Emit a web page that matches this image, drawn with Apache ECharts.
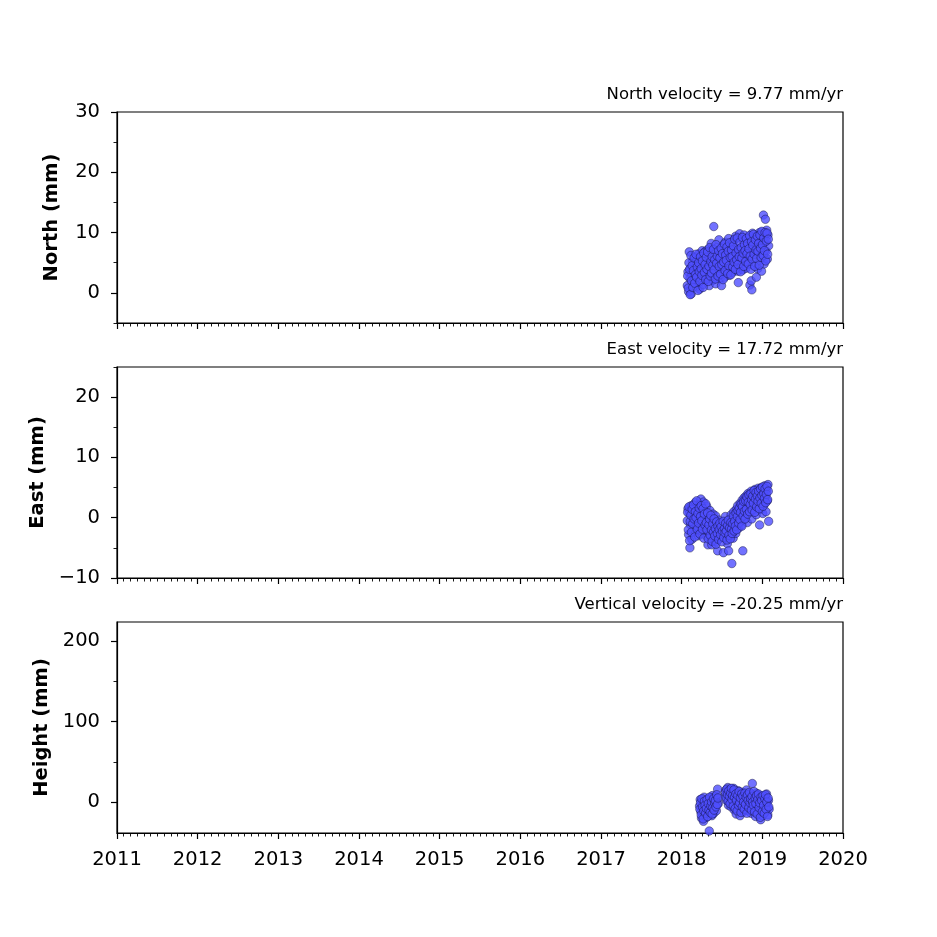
<!DOCTYPE html>
<html>
<head>
<meta charset="utf-8">
<script src="https://cdn.jsdelivr.net/npm/echarts@6/dist/echarts.min.js"></script>
<style>html,body{margin:0;padding:0;background:#fff}#c{width:937px;height:937px}</style>
</head>
<body>
<div id="c"></div>
<script>
// epochs (decimal year) for North / East, set A
const neTimes = [
2018.070,2018.078,2018.086,2018.094,2018.102,2018.110,2018.118,2018.126,2018.134,2018.142,
2018.150,2018.158,2018.166,2018.174,2018.182,2018.190,2018.198,2018.206,2018.214,2018.222,
2018.230,2018.238,2018.246,2018.254,2018.262,2018.270,2018.278,2018.286,2018.294,2018.302,
2018.310,2018.318,2018.326,2018.334,2018.342,2018.350,2018.358,2018.366,2018.374,2018.382,
2018.390,2018.398,2018.406,2018.414,2018.422,2018.430,2018.438,2018.446,2018.454,2018.462,
2018.470,2018.478,2018.486,2018.494,2018.502,2018.510,2018.518,2018.526,2018.534,2018.542,
2018.550,2018.558,2018.566,2018.574,2018.582,2018.590,2018.598,2018.606,2018.614,2018.622,
2018.630,2018.638,2018.646,2018.654,2018.662,2018.670,2018.678,2018.686,2018.694,2018.702,
2018.710,2018.718,2018.726,2018.734,2018.742,2018.750,2018.758,2018.766,2018.774,2018.782,
2018.790,2018.798,2018.806,2018.814,2018.822,2018.830,2018.838,2018.846,2018.854,2018.862,
2018.870,2018.878,2018.886,2018.894,2018.902,2018.910,2018.918,2018.926,2018.934,2018.942,
2018.950,2018.958,2018.966,2018.974,2018.982,2018.990,2018.998,2019.006,2019.014,2019.022,
2019.030,2019.038,2019.046,2019.054,2019.062,2019.070,2019.078
];
const northVals = [
1.2,3.5,0.2,6.8,2.4,4.1,-0.2,3.0,5.2,1.8,
4.6,2.2,6.0,3.3,1.0,5.5,2.8,4.0,6.5,0.6,
3.8,5.1,2.0,7.0,4.4,1.4,5.8,3.1,6.9,4.8,
2.5,5.6,7.2,3.6,1.2,4.9,6.3,8.2,3.0,5.4,
2.1,11.0,4.3,6.7,1.5,5.0,7.5,3.2,5.9,8.8,
4.1,2.4,6.2,1.2,5.3,7.8,3.9,6.0,2.6,8.4,
4.7,6.8,3.5,5.6,9.0,2.9,6.4,4.2,7.9,5.0,
3.4,8.6,6.1,4.0,4.8,9.4,5.7,7.3,3.6,1.7,
6.9,9.8,4.5,7.0,5.2,8.9,3.8,6.4,9.6,5.9,
7.7,4.1,8.3,6.2,5.0,9.2,5.5,1.3,7.4,2.0,
0.5,9.9,4.6,8.1,7.0,6.8,9.3,2.6,7.6,4.0,
8.7,6.3,10.0,5.4,7.9,3.6,9.0,6.6,12.9,4.8,
8.4,12.2,6.9,10.4,5.6,9.6,7.8
];
const eastVals = [
-0.5,1.5,-2.8,0.8,-5.0,-1.2,2.0,-3.6,0.2,-1.8,
1.2,-0.8,2.5,-2.4,0.5,-1.5,1.8,-3.0,-0.2,2.2,
-1.0,3.1,-2.2,0.9,-0.6,2.6,-1.6,1.0,-2.9,0.4,
1.9,-1.3,-4.5,0.0,-2.5,1.2,-3.2,-0.9,-4.5,-1.9,
0.6,-3.6,-1.0,-2.7,0.3,-4.0,-1.5,-5.5,-2.2,-0.4,
-3.3,-1.2,-2.8,-2.5,-0.8,-2.0,-5.8,-1.1,-2.6,0.2,
-3.1,-1.6,-4.3,-0.5,-5.5,-2.0,-1.0,-3.0,0.5,-7.6,
-0.3,-3.4,1.0,-1.5,0.2,-2.6,1.4,-0.6,2.0,-1.8,
0.8,-1.0,2.4,0.0,-1.2,2.9,-5.5,-0.4,3.3,1.6,
0.2,3.6,2.0,-0.8,4.0,2.4,0.9,3.5,1.5,4.4,
-0.2,2.8,4.1,1.2,3.2,4.7,2.1,0.5,3.8,1.7,
4.9,2.6,-1.2,3.9,1.4,5.0,2.9,0.7,4.2,2.2,
5.3,3.4,1.0,4.6,2.8,5.5,-0.6
];
// epochs for North / East, set B
const neTimes2 = [
2018.074,2018.082,2018.090,2018.098,2018.106,2018.114,2018.122,2018.130,2018.138,2018.146,
2018.154,2018.162,2018.170,2018.178,2018.186,2018.194,2018.202,2018.210,2018.218,2018.226,
2018.234,2018.242,2018.250,2018.258,2018.266,2018.274,2018.282,2018.290,2018.298,2018.306,
2018.314,2018.322,2018.330,2018.338,2018.346,2018.354,2018.362,2018.370,2018.378,2018.386,
2018.394,2018.402,2018.410,2018.418,2018.426,2018.434,2018.442,2018.450,2018.458,2018.466,
2018.474,2018.482,2018.490,2018.498,2018.506,2018.514,2018.522,2018.530,2018.538,2018.546,
2018.554,2018.562,2018.570,2018.578,2018.586,2018.594,2018.602,2018.610,2018.618,2018.626,
2018.634,2018.642,2018.650,2018.658,2018.666,2018.674,2018.682,2018.690,2018.698,2018.706,
2018.714,2018.722,2018.730,2018.738,2018.746,2018.754,2018.762,2018.770,2018.778,2018.786,
2018.794,2018.802,2018.810,2018.818,2018.826,2018.834,2018.842,2018.850,2018.858,2018.866,
2018.874,2018.882,2018.890,2018.898,2018.906,2018.914,2018.922,2018.930,2018.938,2018.946,
2018.954,2018.962,2018.970,2018.978,2018.986,2018.994,2019.002,2019.010,2019.018,2019.026,
2019.034,2019.042,2019.050,2019.058,2019.066,2019.074
];
const northVals2 = [
2.8,0.8,5.0,3.9,-0.3,6.2,2.0,4.5,0.9,3.7,
5.8,1.6,3.0,6.4,2.6,4.3,0.4,5.0,3.5,1.9,
6.0,4.0,2.9,5.3,0.9,6.6,3.4,4.7,2.2,5.9,
3.9,6.8,1.9,4.4,7.5,2.8,5.2,3.3,6.0,4.6,
7.2,3.8,5.5,2.3,8.0,4.9,6.1,2.8,7.0,4.4,
5.8,3.1,7.4,4.7,6.5,2.2,5.1,8.1,3.7,6.3,
5.4,7.6,3.2,6.9,4.5,8.3,5.9,3.0,7.1,6.0,
4.3,7.8,5.1,8.9,3.9,6.6,5.5,9.1,4.7,7.2,
6.0,8.4,3.5,7.5,5.8,9.2,6.6,4.4,8.0,7.0,
5.2,9.0,6.5,8.2,4.8,7.3,9.5,6.1,3.9,8.5,
5.6,7.9,9.7,6.4,4.4,8.8,7.1,5.7,9.4,6.9,
8.2,4.6,9.6,7.4,5.9,10.2,8.0,6.2,9.1,7.0,
10.0,5.3,8.6,9.9,6.4,8.9
];
const eastVals2 = [
0.9,-2.0,1.8,-3.8,-0.6,0.4,-2.4,1.4,-1.0,2.1,
-0.2,-3.2,1.0,0.0,2.8,-1.9,0.7,-0.9,1.6,-2.7,
0.2,2.0,-0.5,-1.9,1.5,-3.4,0.6,-1.2,2.3,-0.8,
-2.0,0.8,-3.5,-1.2,-0.2,-2.9,0.4,-2.0,-3.9,-1.0,
-2.4,-0.2,-3.0,-1.8,-4.4,-0.7,-2.6,-1.4,-3.6,-2.0,
-0.9,-2.8,-1.5,-4.0,-2.2,-0.6,-3.3,-1.8,-2.5,-0.9,
-2.2,-3.7,-1.3,-0.4,-2.9,-1.7,-3.5,-0.8,-1.9,-2.6,
-1.0,0.3,-2.2,-0.6,-1.4,0.8,-2.0,0.2,1.2,-0.9,
1.6,-0.3,0.9,2.2,-1.4,1.8,0.3,2.7,1.1,-0.2,
2.8,1.4,3.4,0.6,2.6,3.8,1.0,2.2,4.0,3.0,
1.3,3.6,2.4,4.5,0.9,3.1,4.2,1.8,3.6,2.7,
4.4,1.5,3.3,4.8,2.4,3.7,5.1,1.9,4.0,3.2,
4.8,2.5,3.9,5.2,3.0,4.4
];
// epochs for Height, set A
const upTimes = [
2018.222,2018.230,2018.238,2018.246,2018.254,2018.262,2018.270,2018.278,2018.286,2018.294,
2018.302,2018.310,2018.318,2018.326,2018.334,2018.342,2018.350,2018.358,2018.366,2018.374,
2018.382,2018.390,2018.398,2018.406,2018.414,2018.422,2018.430,2018.438,2018.446,2018.454,
2018.540,2018.548,2018.556,2018.564,2018.572,2018.580,2018.588,2018.596,2018.604,2018.612,
2018.620,2018.628,2018.636,2018.644,2018.652,2018.660,2018.668,2018.676,2018.684,2018.692,
2018.700,2018.708,2018.716,2018.724,2018.732,2018.740,2018.748,2018.756,2018.764,2018.772,
2018.780,2018.788,2018.796,2018.804,2018.812,2018.820,2018.828,2018.836,2018.844,2018.852,
2018.860,2018.868,2018.876,2018.884,2018.892,2018.900,2018.908,2018.916,2018.924,2018.932,
2018.940,2018.948,2018.956,2018.964,2018.972,2018.980,2018.988,2018.996,2019.004,2019.012,
2019.020,2019.028,2019.036,2019.044,2019.052,2019.060,2019.068,2019.076,2019.084
];
const upVals = [
-5,3,-12,-20,0,-8,-24,6,-15,-3,
-10,-19,2,-6,-13,-36,5,-9,-2,-17,
8,-7,-14,1,-4,7,-11,4,16,-2,
8,15,2,12,18,-4,10,5,16,-6,
13,0,9,17,-10,4,11,-15,7,-3,
14,-8,3,-17,9,-4,12,1,-12,6,
-2,10,-7,15,3,-11,8,-1,-5,11,
-14,4,23,-3,9,-8,2,-18,11,-6,
5,-15,1,8,-10,-22,6,-1,-17,3,
-8,7,-12,0,10,-5,-16,2,-9
];
// epochs for Height, set B
const upTimes2 = [
2018.226,2018.234,2018.242,2018.250,2018.258,2018.266,2018.274,2018.282,2018.290,2018.298,
2018.306,2018.314,2018.322,2018.330,2018.338,2018.346,2018.354,2018.362,2018.370,2018.378,
2018.386,2018.394,2018.402,2018.410,2018.418,2018.426,2018.434,2018.442,2018.450,
2018.544,2018.552,2018.560,2018.568,2018.576,2018.584,2018.592,2018.600,2018.608,2018.616,
2018.624,2018.632,2018.640,2018.648,2018.656,2018.664,2018.672,2018.680,2018.688,2018.696,
2018.704,2018.712,2018.720,2018.728,2018.736,2018.744,2018.752,2018.760,2018.768,2018.776,
2018.784,2018.792,2018.800,2018.808,2018.816,2018.824,2018.832,2018.840,2018.848,2018.856,
2018.864,2018.872,2018.880,2018.888,2018.896,2018.904,2018.912,2018.920,2018.928,2018.936,
2018.944,2018.952,2018.960,2018.968,2018.976,2018.984,2018.992,2019.000,2019.008,2019.016,
2019.024,2019.032,2019.040,2019.048,2019.056,2019.064,2019.072,2019.080
];
const upVals2 = [
-9,-1,-16,4,-6,-21,-11,1,-4,-14,
-8,3,-18,-2,-10,6,-13,-5,0,-15,
-7,4,-10,-1,2,-6,9,-3,5,
12,5,16,9,1,14,7,-2,11,17,
3,8,-5,15,6,-8,10,2,-11,8,
-4,13,-1,5,-13,10,-6,7,0,-9,
11,-3,6,-14,9,2,-7,12,-1,4,
-10,7,0,-4,13,-12,5,-2,8,-15,
3,10,-7,-1,-19,6,2,-12,8,-4,
-14,4,9,-9,0,-18,5,-6
];
const titles = ['North velocity = 9.77 mm/yr','East velocity = 17.72 mm/yr','Vertical velocity = -20.25 mm/yr'];
const yNames = ['North (mm)','East (mm)','Height (mm)'];
const yRanges = [[-5,30],[-10,25],[-38.5,223.6]];
const yMajor = [[0,10,20,30],[-10,0,10,20],[0,100,200]];
const yMinor = [[-5,5,15,25],[-5,5,15,25],[50,150]];
const xTicks = [2011,2012,2013,2014,2015,2016,2017,2018,2019,2020];

const FONT = 'DejaVu Sans';
const tops = [112,367,622];
const H = 211;
const chart = echarts.init(document.getElementById('c'), null, {renderer:'canvas'});
const fmt = v => String(v).replace('-', '\u2212');
const pairs = (ts, vs) => ts.map((t,i)=>[t, vs[i]]);
const datasets = [
  pairs(neTimes, northVals).concat(pairs(neTimes2, northVals2)),
  pairs(neTimes, eastVals).concat(pairs(neTimes2, eastVals2)),
  pairs(upTimes, upVals).concat(pairs(upTimes2, upVals2))
];
const grids = [], xAxes = [], yAxes = [], series = [], titleArr = [];
for (let k=0;k<3;k++){
  grids.push({left:117, top:tops[k], width:726, height:H, show:true, borderColor:'#000', borderWidth:1.2, backgroundColor:'transparent'});
  xAxes.push({
    type:'value', gridIndex:k, min:xTicks[0], max:xTicks[xTicks.length-1], interval:1,
    axisLine:{show:true, onZero:false, lineStyle:{color:'#000', width:1.2}},
    axisTick:{show:true, inside:false, length:6, lineStyle:{color:'#000', width:1.2}},
    minorTick:{show:true, splitNumber:12, length:3.5, lineStyle:{color:'#000', width:0.9}},
    splitLine:{show:false}, minorSplitLine:{show:false},
    axisLabel:{show:k===2, margin:17, color:'#000', fontSize:19.5, fontFamily:FONT, formatter:v=>String(v)}
  });
  yAxes.push({
    type:'value', gridIndex:k, min:yRanges[k][0], max:yRanges[k][1],
    name:yNames[k], nameLocation:'middle', nameGap:55,
    nameTextStyle:{fontSize:19.5, fontWeight:'bold', color:'#000', fontFamily:FONT},
    axisLine:{show:true, onZero:false, lineStyle:{color:'#000', width:1.2}},
    axisTick:{show:true, inside:false, length:6, customValues:yMajor[k], lineStyle:{color:'#000', width:1.2}},
    axisLabel:{show:true, margin:17, customValues:yMajor[k], color:'#000', fontSize:19.5, fontFamily:FONT, formatter:fmt},
    splitLine:{show:false}
  });
  yAxes.push({
    type:'value', gridIndex:k, min:yRanges[k][0], max:yRanges[k][1], position:'left',
    axisLine:{show:false},
    axisTick:{show:true, inside:false, length:3.5, customValues:yMinor[k], lineStyle:{color:'#000', width:0.9}},
    axisLabel:{show:false}, splitLine:{show:false}
  });
  series.push({
    type:'scatter', xAxisIndex:k, yAxisIndex:2*k, data:datasets[k], symbol:'circle', symbolSize:8.5,
    itemStyle:{color:'#4f4fff', borderColor:'rgba(15,15,50,0.9)', borderWidth:0.6},
    emphasis:{disabled:true}, animation:false
  });
  titleArr.push({text:titles[k], right:94, top:tops[k]-26, padding:0,
    textStyle:{fontSize:16.5, fontWeight:'normal', color:'#000', fontFamily:FONT}});
}
chart.setOption({
  animation:false,
  backgroundColor:'#fff',
  title:titleArr,
  grid:grids, xAxis:xAxes, yAxis:yAxes, series:series
});
</script>
</body>
</html>
